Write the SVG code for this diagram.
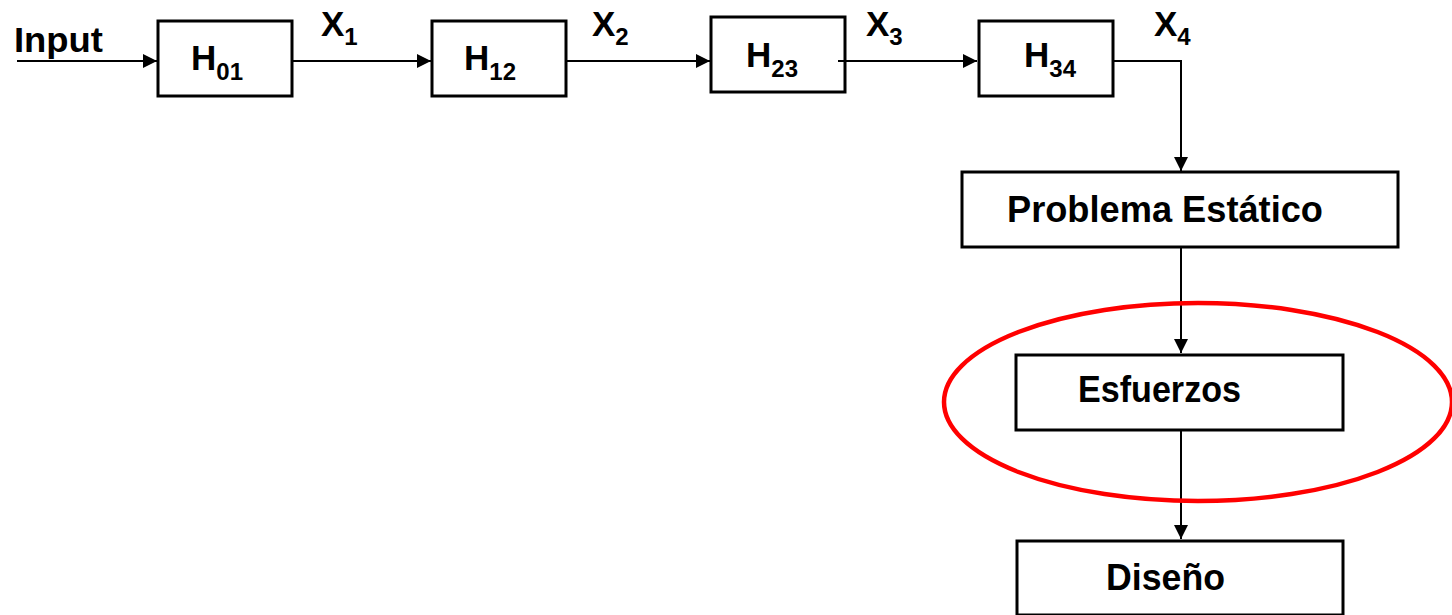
<svg xmlns="http://www.w3.org/2000/svg" width="1452" height="615" viewBox="0 0 1452 615">
  <style>
    .box { fill: #fff; stroke: #000; stroke-width: 3; }
    .lbl { font-family: "Liberation Sans", Arial, sans-serif; font-weight: bold; fill: #000; }
    .big { font-size: 35px; }
    .sub { font-size: 24px; }
    .name { font-size: 36px; }
    .wire { fill: none; stroke: #000; stroke-width: 2; }
  </style>
  <defs>
    <marker id="arrow" viewBox="0 0 14 14" refX="14" refY="7" markerWidth="14" markerHeight="14" markerUnits="userSpaceOnUse" orient="auto">
      <path d="M0,0 L14,7 L0,14 z" fill="#000"/>
    </marker>
  </defs>

  <rect width="1452" height="615" fill="#fff"/>

  <!-- signal labels -->
  <g id="input-label">
    <text class="lbl big" x="14" y="52" textLength="89" lengthAdjust="spacingAndGlyphs">Input</text>
  </g>
  <g id="x1-label">
    <text class="lbl big" x="321" y="36">X<tspan class="sub" dy="9">1</tspan></text>
  </g>
  <g id="x2-label">
    <text class="lbl big" x="592" y="36">X<tspan class="sub" dy="9">2</tspan></text>
  </g>
  <g id="x3-label">
    <text class="lbl big" x="866" y="36">X<tspan class="sub" dy="9">3</tspan></text>
  </g>
  <g id="x4-label">
    <text class="lbl big" x="1154" y="36">X<tspan class="sub" dy="9">4</tspan></text>
  </g>

  <!-- transfer blocks -->
  <g id="h01">
    <rect class="box" x="158" y="21" width="134" height="75"/>
    <text class="lbl big" x="191" y="70">H<tspan class="sub" dy="10">01</tspan></text>
  </g>
  <g id="h12">
    <rect class="box" x="432" y="21" width="134" height="75"/>
    <text class="lbl big" x="464" y="70">H<tspan class="sub" dy="10">12</tspan></text>
  </g>
  <g id="h23">
    <rect class="box" x="711" y="17" width="134" height="75"/>
    <text class="lbl big" x="746" y="67">H<tspan class="sub" dy="10">23</tspan></text>
  </g>
  <g id="h34">
    <rect class="box" x="979" y="21" width="134" height="75"/>
    <text class="lbl big" x="1024" y="67">H<tspan class="sub" dy="10">34</tspan></text>
  </g>

  <!-- analysis chain -->
  <g id="problema-estatico">
    <rect class="box" x="962" y="172" width="436" height="75"/>
    <text class="lbl name" x="1007" y="222" textLength="316" lengthAdjust="spacingAndGlyphs">Problema Estático</text>
  </g>
  <g id="esfuerzos">
    <rect class="box" x="1016" y="355" width="327" height="75"/>
    <text class="lbl name" x="1078" y="402" textLength="163" lengthAdjust="spacingAndGlyphs">Esfuerzos</text>
  </g>
  <g id="diseno">
    <rect class="box" x="1017" y="541" width="326" height="74"/>
    <text class="lbl name" x="1106" y="590" textLength="119" lengthAdjust="spacingAndGlyphs">Diseño</text>
  </g>

  <!-- connectors (drawn over the blocks; the X3 wire starts a little inside H23) -->
  <g id="connectors">
    <line class="wire" x1="17" y1="61" x2="157" y2="61" marker-end="url(#arrow)"/>
    <line class="wire" x1="293" y1="61" x2="431" y2="61" marker-end="url(#arrow)"/>
    <line class="wire" x1="566" y1="61" x2="710" y2="61" marker-end="url(#arrow)"/>
    <line class="wire" x1="838" y1="61" x2="977" y2="61" marker-end="url(#arrow)"/>
    <polyline class="wire" points="1113,61 1181,61 1181,171" marker-end="url(#arrow)"/>
    <line class="wire" x1="1181" y1="248" x2="1181" y2="353" marker-end="url(#arrow)"/>
    <line class="wire" x1="1181" y1="431" x2="1181" y2="539" marker-end="url(#arrow)"/>
  </g>

  <!-- highlight -->
  <g id="highlight">
    <ellipse cx="1198" cy="402" rx="254" ry="99" fill="none" stroke="#ff0000" stroke-width="4.5"/>
  </g>
</svg>
